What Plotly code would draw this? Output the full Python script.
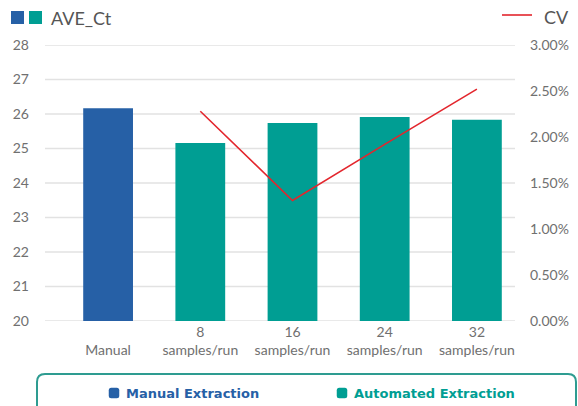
import plotly.graph_objects as go

categories = ["Manual", "8 samples/run", "16 samples/run", "24 samples/run", "32 samples/run"]
tick_labels = [" <br>Manual", "8<br>samples/run", "16<br>samples/run", "24<br>samples/run", "32<br>samples/run"]
ave_ct = [26.17, 25.16, 25.74, 25.91, 25.83]
cv_categories = ["8 samples/run", "16 samples/run", "24 samples/run", "32 samples/run"]
cv_values = [0.0228, 0.0131, 0.0192, 0.0252]
left_ticks = [20, 21, 22, 23, 24, 25, 26, 27, 28]
right_ticks = [0, 0.005, 0.01, 0.015, 0.02, 0.025, 0.03]

BLUE = "#2660A6"
TEAL = "#009E93"
RED = "#E3262D"
GRAY = "#707070"
FONT = "Lato"
LEG_FONT = "DejaVu Sans"

W, H = 578, 406
def px(x):
    return x / W
def py(y):
    return 1 - y / H

bar_colors = [BLUE] + [TEAL] * (len(categories) - 1)

fig = go.Figure()
fig.add_trace(go.Bar(x=categories, y=ave_ct, marker=dict(color=bar_colors, line=dict(width=0)),
                     width=0.54, showlegend=False, yaxis="y", hoverinfo="skip"))
fig.add_trace(go.Scatter(x=cv_categories, y=cv_values, mode="lines",
                         line=dict(color=RED, width=1.6), showlegend=False, yaxis="y2", hoverinfo="skip"))

shapes = []
for t in left_ticks:
    shapes.append(dict(type="line", xref="paper", yref="y", x0=px(45), x1=px(515), y0=t, y1=t,
                       line=dict(color="#E2E2E2", width=1.5), layer="below"))

# top legend
shapes.append(dict(type="rect", xref="paper", yref="paper", x0=px(11), x1=px(24), y0=py(24), y1=py(11),
                   fillcolor=BLUE, line=dict(width=0)))
shapes.append(dict(type="rect", xref="paper", yref="paper", x0=px(29), x1=px(42), y0=py(24), y1=py(11),
                   fillcolor=TEAL, line=dict(width=0)))
shapes.append(dict(type="line", xref="paper", yref="paper", x0=px(502), x1=px(532), y0=py(15), y1=py(15),
                   line=dict(color=RED, width=1.6)))

# bottom legend box (rounded)
x0b, x1b, y0b, y1b, r = 37, 576, 374, 430, 8
path = (f"M {px(x0b)},{py(y1b)} L {px(x0b)},{py(y0b + r)} "
        f"Q {px(x0b)},{py(y0b)} {px(x0b + r)},{py(y0b)} "
        f"L {px(x1b - r)},{py(y0b)} Q {px(x1b)},{py(y0b)} {px(x1b)},{py(y0b + r)} "
        f"L {px(x1b)},{py(y1b)}")
shapes.append(dict(type="path", xref="paper", yref="paper", path=path,
                   line=dict(color="#2E9C91", width=2)))

def rounded_square(cx, cy, s, color):
    h = s / 2
    rr = 2.5
    p = (f"M {px(cx - h + rr)},{py(cy - h)} L {px(cx + h - rr)},{py(cy - h)} "
         f"Q {px(cx + h)},{py(cy - h)} {px(cx + h)},{py(cy - h + rr)} "
         f"L {px(cx + h)},{py(cy + h - rr)} Q {px(cx + h)},{py(cy + h)} {px(cx + h - rr)},{py(cy + h)} "
         f"L {px(cx - h + rr)},{py(cy + h)} Q {px(cx - h)},{py(cy + h)} {px(cx - h)},{py(cy + h - rr)} "
         f"L {px(cx - h)},{py(cy - h + rr)} Q {px(cx - h)},{py(cy - h)} {px(cx - h + rr)},{py(cy - h)} Z")
    return dict(type="path", xref="paper", yref="paper", path=p, fillcolor=color, line=dict(width=0))

shapes.append(rounded_square(114, 393, 10.5, BLUE))
shapes.append(rounded_square(342, 393, 10.5, TEAL))

annotations = [
    dict(text="AVE_Ct", xref="paper", yref="paper", x=px(49), y=py(18), xanchor="left", yanchor="middle",
         showarrow=False, font=dict(family=FONT, size=18, color="#555555")),
    dict(text="CV", xref="paper", yref="paper", x=px(542), y=py(17), xanchor="left", yanchor="middle",
         showarrow=False, font=dict(family=FONT, size=18, color="#555555")),
    dict(text="<b>Manual Extraction</b>", xref="paper", yref="paper", x=px(124), y=py(393), xanchor="left",
         yanchor="middle", showarrow=False, font=dict(family=LEG_FONT, size=13, color=BLUE)),
    dict(text="<b>Automated Extraction</b>", xref="paper", yref="paper", x=px(352), y=py(393), xanchor="left",
         yanchor="middle", showarrow=False, font=dict(family=LEG_FONT, size=13, color=TEAL)),
]

fig.update_layout(
    width=W, height=H, margin=dict(l=0, r=0, t=0, b=0, autoexpand=False),
    plot_bgcolor="white", paper_bgcolor="white",
    bargap=0.46,
    shapes=shapes, annotations=annotations,
    font=dict(family=FONT, color=GRAY, size=14),
    xaxis=dict(domain=[px(62), px(523)], tickmode="array", tickvals=categories, ticktext=tick_labels,
               showgrid=False, showline=False, zeroline=False, ticks="", automargin=False,
               tickfont=dict(family=FONT, size=14, color=GRAY), ticklabelstandoff=1),
    yaxis=dict(domain=[py(321), py(45)], range=[20, 28], tickvals=left_ticks, automargin=False,
               anchor="free", position=px(29), showgrid=False, zeroline=False, showline=False,
               ticks="", tickfont=dict(family=FONT, size=14, color=GRAY)),
    yaxis2=dict(domain=[py(321), py(45)], range=[0, 0.03], tickvals=right_ticks, tickformat=".2%",
                overlaying="y", side="right", anchor="free", position=px(529), automargin=False,
                showgrid=False, zeroline=False, showline=False, ticks="",
                tickfont=dict(family=FONT, size=14, color=GRAY)),
)

fig.write_html("out.html", config={"displayModeBar": False},
               post_script="document.body.style.margin='0';document.body.style.padding='0';document.body.style.overflow='hidden';")
